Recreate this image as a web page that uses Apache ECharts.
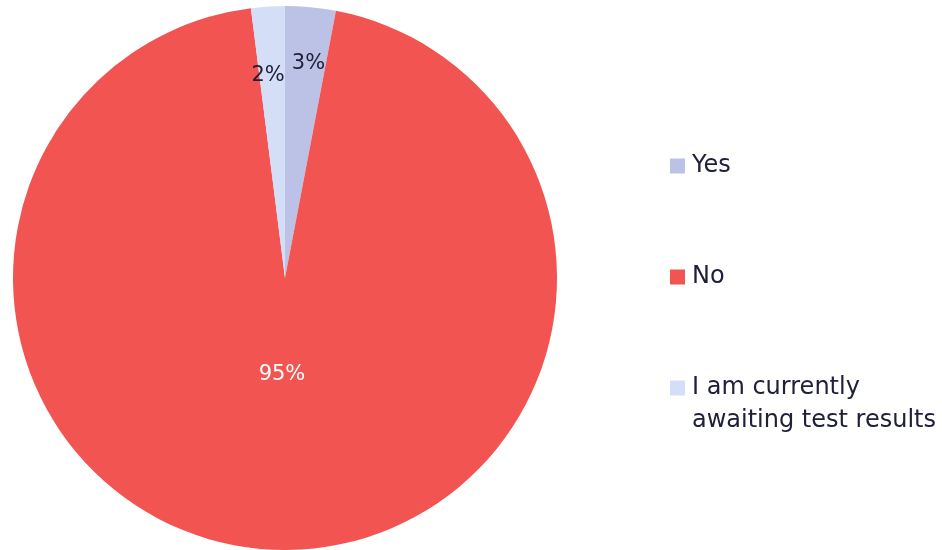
<!DOCTYPE html>
<html>
<head>
<meta charset="utf-8">
<script src="https://cdn.jsdelivr.net/npm/echarts@6/dist/echarts.min.js"></script>
<style>
  html, body { margin: 0; padding: 0; background: #ffffff; }
  #chart { width: 942px; height: 550px; }
</style>
</head>
<body>
<div id="chart"></div>
<script>
// Survey answers and their shares (percent)
const categories = ['Yes', 'No', 'I am currently awaiting test results'];
const shares = [3, 95, 2];
const colors = ['#BCC2E6', '#F15451', '#D4DFF7'];
const labelColors = ['#20203a', '#ffffff', '#20203a'];
// How far out (fraction of radius) each percentage label sits, plus a small nudge
const labelRadius = [0.80, 0.353, 0.755];
const labelNudge = [[3, 2], [0, 1], [-4, 3]];
// Legend text broken across lines (blank first line keeps the marker on the first text line)
const legendText = {
  'Yes': '\nYes\n',
  'No': '\nNo\n',
  'I am currently awaiting test results': '\nI am currently\nawaiting test results'
};

const cx = 285, cy = 278, R = 272;
const total = shares.reduce((a, b) => a + b, 0);

// Mid angle (clockwise from 12 o'clock) of each slice
const midAngles = [];
let acc = 0;
shares.forEach(v => {
  const a = v / total * 360;
  midAngles.push(acc + a / 2);
  acc += a;
});

const chart = echarts.init(document.getElementById('chart'), null, { renderer: 'canvas' });
const fontFamily = '"DejaVu Sans", "Noto Sans", sans-serif';

chart.setOption({
  animation: false,
  color: colors,
  legend: {
    orient: 'vertical',
    left: 665,
    top: 111.5,
    itemWidth: 15,
    itemHeight: 15,
    itemGap: 12,
    icon: 'rect',
    data: categories,
    formatter: name => legendText[name] || name,
    textStyle: {
      fontFamily: fontFamily,
      fontSize: 24,
      lineHeight: 33,
      color: '#20203a',
      padding: [0, 0, 0, 2]
    }
  },
  series: [{
    type: 'pie',
    center: [cx, cy],
    radius: [0, R],
    startAngle: 90,
    clockwise: true,
    avoidLabelOverlap: false,
    itemStyle: { borderWidth: 0 },
    label: {
      show: true,
      position: 'inside',
      formatter: '{c}%',
      fontFamily: fontFamily,
      fontSize: 21,
      fontWeight: 400
    },
    labelLine: { show: false },
    labelLayout: params => {
      const i = params.dataIndex;
      const ang = midAngles[i] * Math.PI / 180;
      const r = R * labelRadius[i];
      return {
        x: cx + Math.sin(ang) * r + labelNudge[i][0],
        y: cy - Math.cos(ang) * r + labelNudge[i][1],
        align: 'center',
        verticalAlign: 'middle'
      };
    },
    data: categories.map((name, i) => ({
      name: name,
      value: shares[i],
      label: { color: labelColors[i] }
    }))
  }]
});
</script>
</body>
</html>
